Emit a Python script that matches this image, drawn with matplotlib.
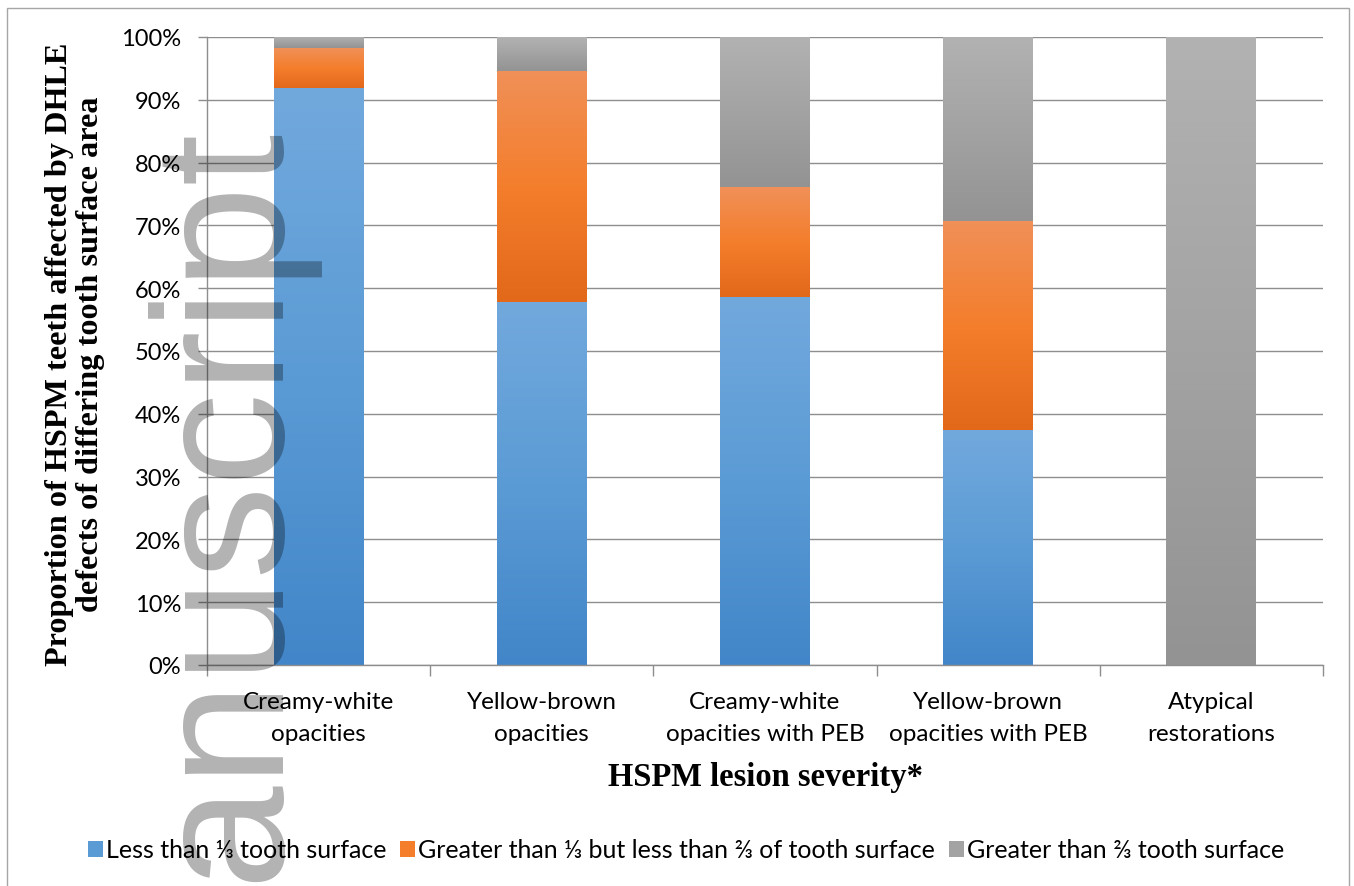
import matplotlib
matplotlib.use("Agg")
import matplotlib.pyplot as plt
import numpy as np
from matplotlib.colors import LinearSegmentedColormap
from matplotlib.patches import Rectangle

# HSPM lesion severity groups and share of teeth per DHLE surface category (%)
categories = ["Creamy-white\nopacities", "Yellow-brown\nopacities",
              "Creamy-white\nopacities with PEB", "Yellow-brown\nopacities with PEB",
              "Atypical\nrestorations"]
less_third = [91.9, 57.8, 58.6, 37.4, 0.0]
third_to_two_thirds = [6.3, 36.8, 17.5, 33.3, 0.0]
over_two_thirds = [1.8, 5.4, 23.9, 29.3, 100.0]
series_names = ["Less than \u2153 tooth surface",
                "Greater than \u2153 but less than \u2154 of tooth surface",
                "Greater than \u2154 tooth surface"]
y_ticks = [0, 10, 20, 30, 40, 50, 60, 70, 80, 90, 100]

# (dark bottom, base, light top) for the gradient fill of each series
shades = [("#4286c9", "#5b9bd5", "#72a9dd"),
          ("#e2681a", "#f47e2c", "#f09058"),
          ("#939393", "#a3a3a3", "#b2b2b2")]

sans = ["Lato", "DejaVu Sans"]
serif = ["Liberation Serif", "DejaVu Serif"]
GRID = "#8e8e8e"

fig = plt.figure(figsize=(13.54, 8.87), dpi=100)
W, H = 1354, 887
ax = fig.add_axes([207 / W, 1 - 666 / H, (1323 - 207) / W, (666 - 38) / H])

x = np.arange(len(categories))
width = 0.403
bottom = np.zeros(len(categories))
for vals, name, sh in zip([less_third, third_to_two_thirds, over_two_thirds],
                          series_names, shades):
    bars = ax.bar(x, vals, width, bottom=bottom, color=sh[1], label=name,
                  linewidth=0, zorder=2)
    cmap = LinearSegmentedColormap.from_list("g", list(sh))
    grad = np.linspace(0, 1, 256).reshape(-1, 1)
    for p in bars:
        if p.get_height() <= 0:
            continue
        x0, y0 = p.get_x(), p.get_y()
        ax.imshow(grad, extent=[x0, x0 + p.get_width(), y0, y0 + p.get_height()],
                  origin="lower", aspect="auto", cmap=cmap, zorder=2.5,
                  interpolation="bilinear")
    bottom += np.array(vals)

ax.set_xlim(-0.5, len(categories) - 0.5)
ax.set_ylim(0, 100)

ax.set_yticks(y_ticks)
ax.set_yticklabels([f"{t}%" for t in y_ticks], family=sans, fontsize=17)
ax.yaxis.grid(True, color=GRID, lw=1.0, zorder=0)
ax.set_axisbelow(True)

ax.set_xticks(np.arange(-0.5, len(categories)), minor=False)
ax.set_xticklabels([])
ax.set_xticks(x, minor=True)
ax.set_xticklabels(categories, minor=True, family=sans, fontsize=17.5,
                   linespacing=1.62)
ax.tick_params(axis="x", which="major", length=8, color=GRID, width=1.0)
ax.tick_params(axis="x", which="minor", length=0, pad=19)
ax.tick_params(axis="y", length=6.5, color=GRID, width=1.0, pad=12)

for s in ["top", "right"]:
    ax.spines[s].set_visible(False)
for s in ["left", "bottom"]:
    ax.spines[s].set_color(GRID)
    ax.spines[s].set_linewidth(1.0)

fig.text(75 / W, 1 - 354 / H,
         "Proportion of HSPM teeth affected by DHLE\ndefects of differing tooth surface area",
         rotation=90, ha="center", va="center", family=serif, weight="bold",
         fontsize=23.2, linespacing=1.12)
fig.text(765 / W, 1 - 778 / H, "HSPM lesion severity*", ha="center", va="center",
         family=serif, weight="bold", fontsize=23.5)

fig.legend(loc="center", bbox_to_anchor=(686 / W, 1 - 851 / H), ncol=3,
           frameon=False, prop={"family": sans, "size": 18},
           handlelength=0.6, handleheight=0.6, handletextpad=0.12,
           columnspacing=0.55)

# outer chart border
fig.patches.append(Rectangle((7 / W, -0.05), (1349 - 7) / W, 1.05 - 9 / H,
                             transform=fig.transFigure, fill=False,
                             edgecolor="#a6a6a6", lw=1.0))

# "Manuscript" stamp running up the left side
fig.text(269 / W, 1 - 118 / H, "Manuscript", rotation=90, rotation_mode="anchor",
         ha="right", va="baseline", family=["Liberation Sans", "DejaVu Sans"],
         fontsize=134, color="black", alpha=0.3, zorder=10)

fig.savefig("out.png", dpi=100)
